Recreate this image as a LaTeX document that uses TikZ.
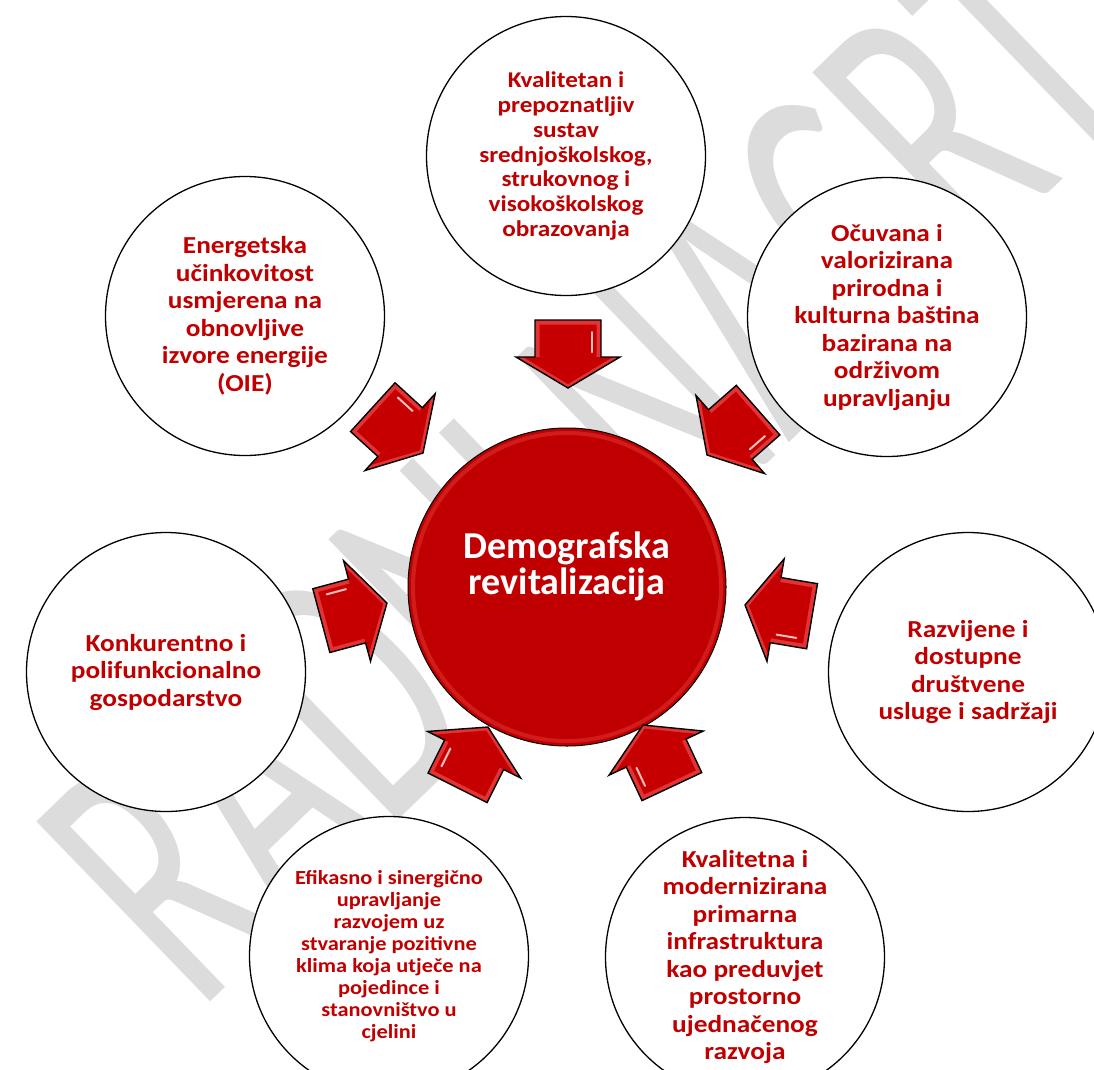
\documentclass[tikz,border=0pt]{standalone}
\usepackage{fontspec}
\setmainfont{Carlito}
\newfontfamily\outfont{Carlito}[FakeStretch=1.12]
\definecolor{txtred}{RGB}{192,0,0}
\definecolor{cred}{RGB}{192,0,0}
\definecolor{arrlight}{RGB}{226,52,52}
\definecolor{arrdark}{RGB}{198,0,0}
\definecolor{wmgray}{RGB}{220,220,220}
\tikzset{
  outer/.style={circle, draw=black, line width=1.3pt, fill=white, minimum size=279pt,
    inner sep=0pt, align=center, text=txtred,
    font=\outfont\bfseries\fontsize{24.4}{27.5}\selectfont},
  redarrow/.pic={
    \fill[arrlight] (0,0) -- (-31,52) -- (-31,33) -- (-68,33) -- (-68,-33) -- (-31,-33) -- (-31,-52) -- cycle;
    \fill[arrdark] (-4,0) -- (-31,45) -- (-31,28.5) -- (-63.5,28.5) -- (-63.5,-28.5) -- (-31,-28.5) -- (-31,-45) -- cycle;
    \draw[white, line width=2pt, line cap=round, opacity=0.75] (-36,-24) -- (-56,-24);
    \draw[black, line width=1.4pt, line join=miter] (0,0) -- (-31,52) -- (-31,33) -- (-68,33) -- (-68,-33) -- (-31,-33) -- (-31,-52) -- cycle;
  }
}
\begin{document}
\begin{tikzpicture}[x=1pt,y=-1pt]
\useasboundingbox (0,0) rectangle (1094,1069);
\fill[white] (0,0) rectangle (1094,1069);
% watermark
\node[text=wmgray, rotate=44, xscale=0.6, font=\fontsize{390}{390}\selectfont, inner sep=0pt] (wm) at (585,466) {RADNI NACRT};
% outer circles
\node[outer, font=\outfont\bfseries\fontsize{22.5}{24.8}\selectfont] (top) at (566,156) {Kvalitetan i\\prepoznatljiv\\sustav\\srednjoškolskog,\\strukovnog i\\visokoškolskog\\obrazovanja};
\node[outer] (tr) at (887,317) {Očuvana i\\valorizirana\\prirodna i\\kulturna baština\\bazirana na\\održivom\\upravljanju};
\node[outer] (tl) at (245,316) {Energetska\\učinkovitost\\usmjerena na\\obnovljive\\izvore energije\\(OIE)};
\node[outer] (lf) at (166,672) {Konkurentno i\\polifunkcionalno\\gospodarstvo};
\node[outer] (rt) at (968,672) {Razvijene i\\dostupne\\društvene\\usluge i sadržaji};
\node[outer, font=\outfont\bfseries\fontsize{20}{22}\selectfont] (bl) at (389,956) {Efikasno i sinergično\\upravljanje\\razvojem uz\\stvaranje pozitivne\\klima koja utječe na\\pojedince i\\stanovništvo u\\cjelini};
\node[outer] (br) at (745,957) {Kvalitetna i\\modernizirana\\primarna\\infrastruktura\\kao preduvjet\\prostorno\\ujednačenog\\razvoja};
% centre
\node[circle, fill=cred, draw=black, line width=1pt, minimum size=318pt, inner sep=0pt] (c) at (567,587) {};
\draw[arrlight, line width=4pt, opacity=0.55] (c.center) circle (154);
\node[text=white, align=center, font=\bfseries\fontsize{38}{36}\selectfont] (ct) at (567,566) {Demografska\\revitalizacija};
% arrows
\path (568,388) pic[rotate=-90] {redarrow};
\path (707,455) pic[rotate=-138.7] {redarrow};
\path (423,453) pic[rotate=-42.4] {redarrow};
\path (387,603) pic[rotate=15] {redarrow};
\path (745,605) pic[rotate=-189.5] {redarrow};
\path (488,727) pic[rotate=63.4] {redarrow};
\path (643,725) pic[rotate=-244.9] {redarrow};
\end{tikzpicture}
\end{document}
